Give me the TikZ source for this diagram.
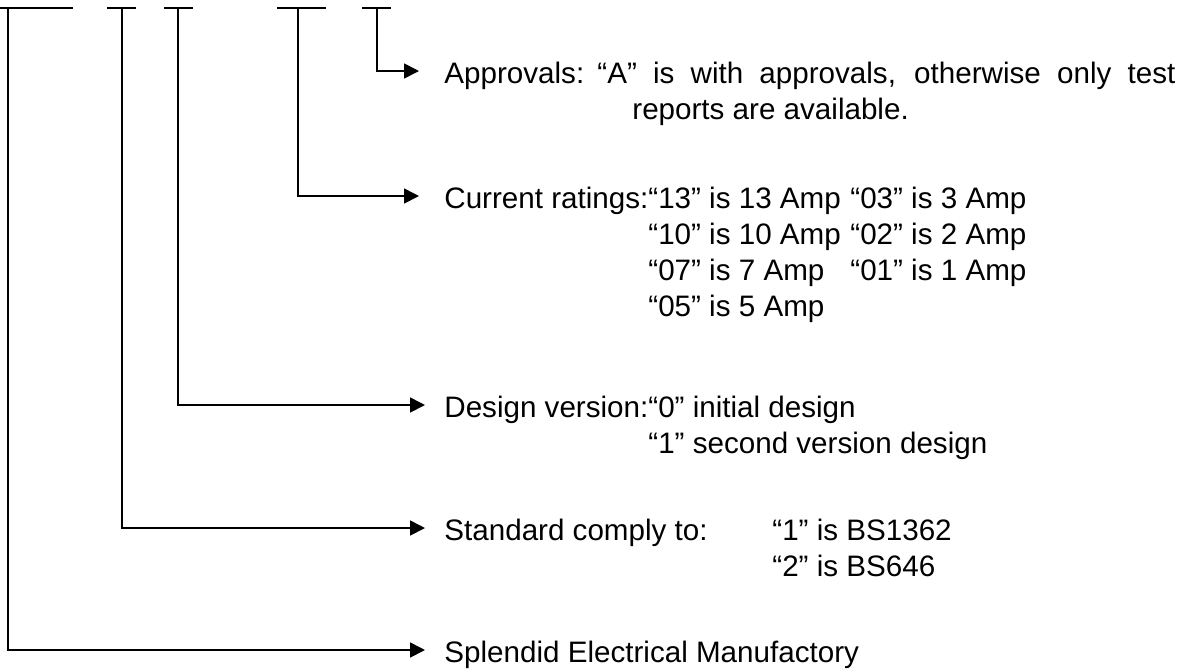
\documentclass[tikz,border=0pt]{standalone}
\usepackage{fontspec}
\setmainfont{Liberation Sans}
\usetikzlibrary{arrows.meta, positioning}

\begin{document}
\begin{tikzpicture}[
    x=0.5pt, y=-0.5pt,
    % Styles embedded for portability
    lbl/.style={anchor=base west, inner sep=0pt, font=\fontsize{14.8pt}{18pt}\selectfont},
    bar/.style={draw, line width=0.85pt},
    line/.style={draw, line width=0.85pt, -{Triangle[length=7.5pt, width=7.5pt]}}
]
    \useasboundingbox (0,0) rectangle (1194,671);

    % --- CODE SEGMENTS (Top) ---
    \draw [bar] (0,8) -- (73,8);
    \draw [bar] (107,8) -- (136,8);
    \draw [bar] (164,8) -- (193,8);
    \draw [bar] (277,8) -- (326,8);
    \draw [bar] (362,8) -- (391,8);
    \coordinate (maker) at (8,8);
    \coordinate (std) at (122,8);
    \coordinate (ver) at (178,8);
    \coordinate (amp) at (298,8);
    \coordinate (appr) at (377,8);

    % --- APPROVALS ---
    \node [lbl] (appr_lbl) at (444,83) {Approvals:};
    \node [lbl] (appr_a) at (597,83) {\makebox[289pt][s]{“A” is with approvals, otherwise only test}};
    \node [lbl] (appr_b) at (632,119) {reports are available.};

    % --- CURRENT RATINGS ---
    \node [lbl] (amp_lbl) at (444,208) {Current ratings:};
    \node [lbl] (amp_13) at (648,208) {“13” is 13 Amp};
    \node [lbl] (amp_10) at (648,244) {“10” is 10 Amp};
    \node [lbl] (amp_07) at (648,280) {“07” is 7 Amp};
    \node [lbl] (amp_05) at (648,316) {“05” is 5 Amp};
    \node [lbl] (amp_03) at (850,208) {“03” is 3 Amp};
    \node [lbl] (amp_02) at (850,244) {“02” is 2 Amp};
    \node [lbl] (amp_01) at (850,280) {“01” is 1 Amp};

    % --- DESIGN VERSION ---
    \node [lbl] (ver_lbl) at (444,417) {Design version:};
    \node [lbl] (ver_0) at (648,417) {“0” initial design};
    \node [lbl] (ver_1) at (648,453) {“1” second version design};

    % --- STANDARD ---
    \node [lbl] (std_lbl) at (444,540) {Standard comply to:};
    \node [lbl] (std_1) at (772,540) {“1” is BS1362};
    \node [lbl] (std_2) at (772,576) {“2” is BS646};

    % --- MANUFACTURER ---
    \node [lbl] (maker_lbl) at (444,662) {Splendid Electrical Manufactory};

    % --- CONNECTIONS ---
    \draw [line] (appr) |- ([shift={(-25,-12)}]appr_lbl.base west);
    \draw [line] (amp) |- ([shift={(-25,-12)}]amp_lbl.base west);
    \draw [line] (ver) |- ([shift={(-19,-12)}]ver_lbl.base west);
    \draw [line] (std) |- ([shift={(-19,-12)}]std_lbl.base west);
    \draw [line] (maker) |- ([shift={(-19,-12)}]maker_lbl.base west);

\end{tikzpicture}
\end{document}
